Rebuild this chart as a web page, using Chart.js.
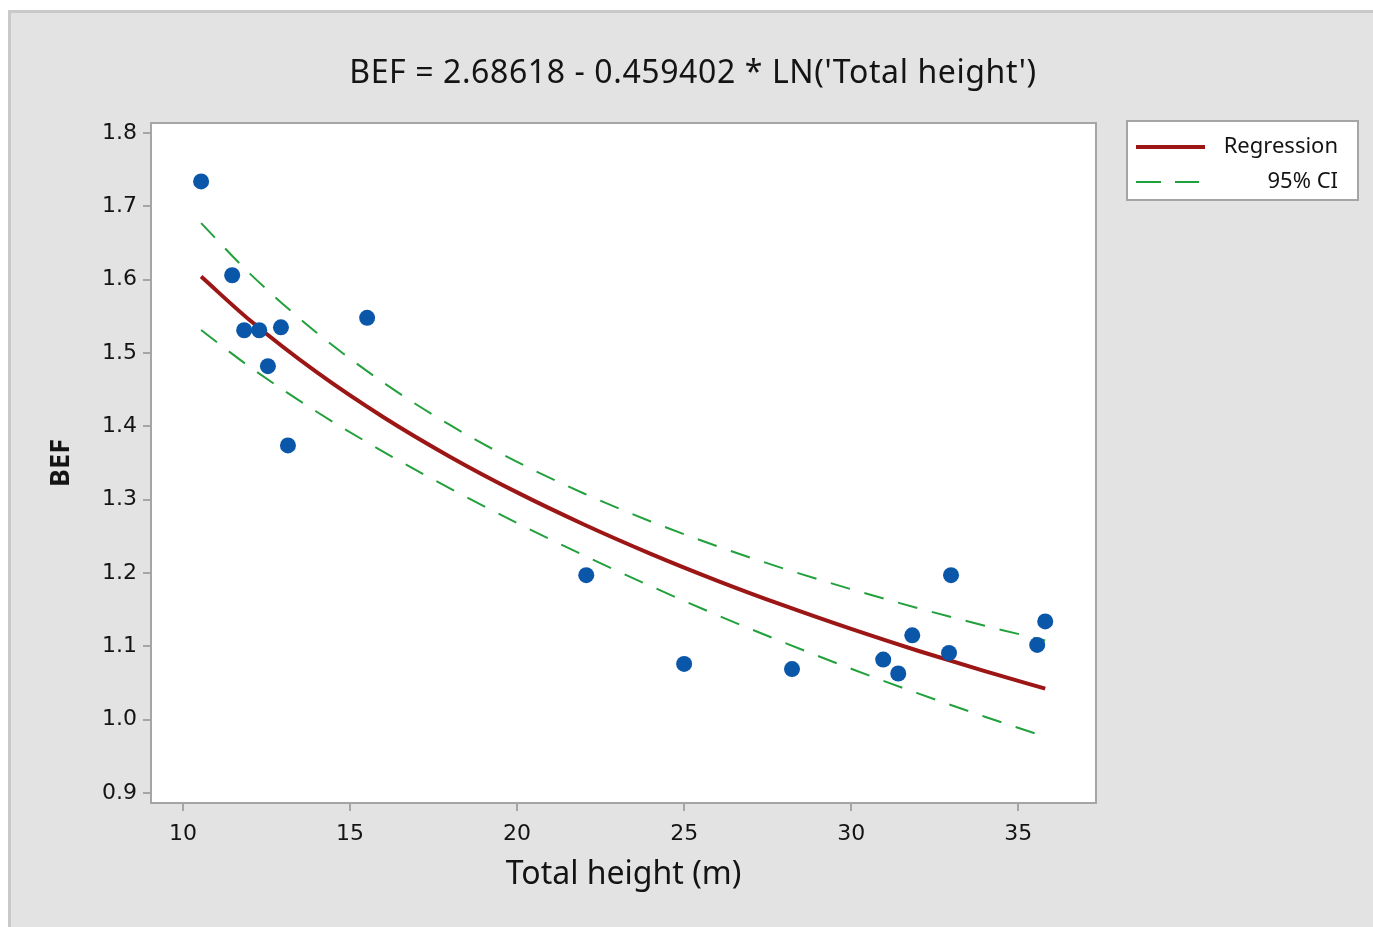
<!DOCTYPE html>
<html>
<head>
<meta charset="utf-8">
<script src="https://cdn.jsdelivr.net/npm/chart.js@4/dist/chart.umd.min.js"></script>
<style>
  html, body { margin: 0; padding: 0; background: #ffffff; }
  canvas { display: block; }
</style>
</head>
<body>
<canvas id="myChart" width="1373" height="927"></canvas>
<script>
// observed data (total height in m, BEF)
const heights = [10.54, 11.47, 11.83, 12.28, 12.54, 12.93, 13.14, 15.51, 22.07, 25.0, 28.23, 30.96, 31.41, 31.83, 32.93, 32.99, 35.57, 35.81]
const bef = [1.734, 1.606, 1.531, 1.531, 1.482, 1.535, 1.374, 1.548, 1.197, 1.076, 1.069, 1.082, 1.063, 1.115, 1.091, 1.197, 1.102, 1.134]

// fitted line and 95% CI
const fitX = [10.54, 12, 14, 16, 18, 20, 22, 24, 26, 28, 30, 32, 34, 35.81]
const fitY = [1.6042, 1.5446, 1.4738, 1.4124, 1.3583, 1.3099, 1.2662, 1.2262, 1.1894, 1.1554, 1.1237, 1.0940, 1.0661, 1.0424]
const ciUpper = [1.6771, 1.6082, 1.5277, 1.4595, 1.4015, 1.3516, 1.3084, 1.2703, 1.2364, 1.2058, 1.1779, 1.1521, 1.1281, 1.1080]
const ciLower = [1.5313, 1.4810, 1.4199, 1.3653, 1.3151, 1.2682, 1.2240, 1.1821, 1.1424, 1.1050, 1.0695, 1.0359, 1.0041, 0.9768]

const xTicks = [10, 15, 20, 25, 30, 35]
const yTicks = [0.9, 1.0, 1.1, 1.2, 1.3, 1.4, 1.5, 1.6, 1.7, 1.8]

const chartTitle = "BEF = 2.68618 - 0.459402 * LN('Total height')"
const xTitle = 'Total height (m)'
const yTitle = 'BEF'

const REG_COLOR = '#9c1616'
const CI_COLOR = '#22a03c'
const DOT_COLOR = '#0a56a8'
const TEXT_COLOR = '#141414'

function to_points(xs, ys){
    return xs.map((x, i) => ({x: x, y: ys[i]}))
}

const backgroundPlugin = {
    id: 'minitabBackground',
    beforeDraw(chart){
        const ctx = chart.ctx
        const area = chart.chartArea
        ctx.save()
        ctx.fillStyle = '#ffffff'
        ctx.fillRect(0, 0, chart.width, chart.height)
        ctx.fillStyle = '#e3e3e3'
        ctx.fillRect(8, 10, chart.width - 8, chart.height - 10)
        ctx.fillStyle = '#c9c9c9'
        ctx.fillRect(8, 10, chart.width - 8, 3)
        ctx.fillRect(8, 10, 3, chart.height - 10)

        // plot box
        ctx.fillStyle = '#ffffff'
        ctx.fillRect(area.left, area.top, area.right - area.left, area.bottom - area.top)
        ctx.strokeStyle = '#a5a5a5'
        ctx.lineWidth = 2
        ctx.strokeRect(area.left, area.top, area.right - area.left, area.bottom - area.top)

        // title
        ctx.fillStyle = TEXT_COLOR
        ctx.font = '32px "Noto Sans"'
        ctx.letterSpacing = '0.6px'
        ctx.textAlign = 'center'
        ctx.textBaseline = 'middle'
        ctx.fillText(chartTitle, 693, 74)
        ctx.restore()
    }
}

const legendPlugin = {
    id: 'minitabLegend',
    afterDraw(chart){
        const ctx = chart.ctx
        const reg = chart.data.datasets[1]
        const ci = chart.data.datasets[2]
        ctx.save()
        ctx.fillStyle = '#ffffff'
        ctx.fillRect(1127, 121, 231, 79)
        ctx.strokeStyle = '#a5a5a5'
        ctx.lineWidth = 2
        ctx.strokeRect(1127, 121, 231, 79)

        ctx.strokeStyle = reg.borderColor
        ctx.lineWidth = reg.borderWidth
        ctx.beginPath()
        ctx.moveTo(1136, 147)
        ctx.lineTo(1205, 147)
        ctx.stroke()

        ctx.strokeStyle = ci.borderColor
        ctx.lineWidth = 2
        ctx.setLineDash([25, 14])
        ctx.beginPath()
        ctx.moveTo(1136, 182)
        ctx.lineTo(1199, 182)
        ctx.stroke()
        ctx.setLineDash([])

        ctx.fillStyle = TEXT_COLOR
        ctx.font = '22px "Noto Sans"'
        ctx.textAlign = 'right'
        ctx.textBaseline = 'middle'
        ctx.fillText(reg.label, 1338, 147)
        ctx.fillText(ci.label, 1338, 182)
        ctx.restore()
    }
}

const tickFont = {family: '"DejaVu Sans"', size: 22}

const config = {
    type: 'scatter',
    data: {
        datasets: [
            {
                label: 'BEF',
                data: to_points(heights, bef),
                backgroundColor: DOT_COLOR,
                borderColor: DOT_COLOR,
                pointRadius: 8,
                pointHoverRadius: 8,
                pointBorderWidth: 0,
                order: 0
            },
            {
                label: 'Regression',
                data: to_points(fitX, fitY),
                showLine: true,
                borderColor: REG_COLOR,
                borderWidth: 4,
                pointRadius: 0,
                cubicInterpolationMode: 'monotone',
                order: 1
            },
            {
                label: '95% CI',
                data: to_points(fitX, ciUpper),
                showLine: true,
                borderColor: CI_COLOR,
                borderWidth: 2,
                borderDash: [20, 15],
                pointRadius: 0,
                cubicInterpolationMode: 'monotone',
                order: 2
            },
            {
                label: '95% CI lower',
                data: to_points(fitX, ciLower),
                showLine: true,
                borderColor: CI_COLOR,
                borderWidth: 2,
                borderDash: [20, 15],
                pointRadius: 0,
                cubicInterpolationMode: 'monotone',
                order: 2
            }
        ]
    },
    options: {
        responsive: false,
        animation: false,
        devicePixelRatio: 1,
        layout: {padding: {top: 123, right: 277, left: 0, bottom: 0}},
        plugins: {
            legend: {display: false},
            tooltip: {enabled: false},
            title: {display: false}
        },
        scales: {
            x: {
                type: 'linear',
                min: 9.04,
                max: 37.33,
                afterBuildTicks: (scale) => { scale.ticks = xTicks.map(v => ({value: v})) },
                afterFit: (scale) => { scale.height = 124 },
                border: {display: false},
                grid: {drawOnChartArea: false, drawTicks: true, tickLength: 8, color: '#a5a5a5', lineWidth: 2},
                ticks: {font: tickFont, color: TEXT_COLOR, padding: 10, maxRotation: 0,
                        callback: (v) => String(v)},
                title: {display: true, text: xTitle, color: TEXT_COLOR,
                        font: {family: '"Noto Sans"', size: 32}, padding: {top: 0, bottom: 33}}
            },
            y: {
                type: 'linear',
                min: 0.8864,
                max: 1.8136,
                afterBuildTicks: (scale) => { scale.ticks = yTicks.map(v => ({value: v})) },
                afterFit: (scale) => { scale.width = 151 },
                border: {display: false},
                grid: {drawOnChartArea: false, drawTicks: true, tickLength: 8, color: '#a5a5a5', lineWidth: 2},
                ticks: {font: tickFont, color: TEXT_COLOR, padding: 6,
                        callback: (v) => Number(v).toFixed(1)},
                title: {display: true, text: yTitle, color: TEXT_COLOR,
                        font: {family: '"Noto Sans"', size: 27, weight: 'bold'}, padding: {top: 45, bottom: 0}}
            }
        }
    },
    plugins: [backgroundPlugin, legendPlugin]
}

new Chart(document.getElementById('myChart'), config)
</script>
</body>
</html>
